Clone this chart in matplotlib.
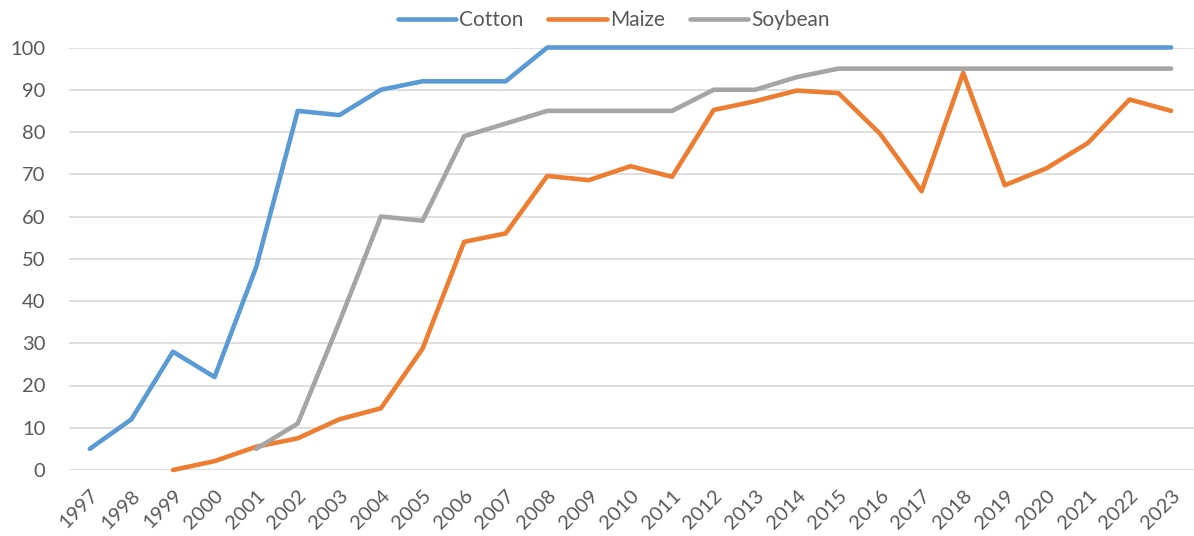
import matplotlib
matplotlib.use("Agg")
import matplotlib.pyplot as plt

years = list(range(1997, 2024))
cotton_years = list(range(1997, 2024))
cotton = [5, 12, 28, 22, 48, 85, 84, 90, 92, 92, 92, 100, 100, 100, 100, 100, 100,
          100, 100, 100, 100, 100, 100, 100, 100, 100, 100]
maize_years = list(range(1999, 2024))
maize = [0, 2.1, 5.5, 7.5, 12, 14.6, 28.7, 54, 56, 69.6, 68.6, 71.9, 69.4, 85.2,
         87.3, 89.8, 89.2, 79.6, 66, 94, 67.4, 71.4, 77.4, 87.7, 85]
soy_years = list(range(2001, 2024))
soybean = [5, 11, 35, 60, 59, 79, 82, 85, 85, 85, 85, 90, 90, 93, 95, 95, 95, 95,
           95, 95, 95, 95, 95]

plt.rcParams['font.family'] = ['Lato', 'DejaVu Sans']

fig = plt.figure(figsize=(11.94, 5.36), dpi=100)
ax = fig.add_axes([69 / 1194, 1 - 470 / 536, 1 - 69 / 1194, (470 - 47.5) / 536])

lw = 3.3
ax.plot(cotton_years, cotton, color='#5B9BD5', lw=lw, label='Cotton',
        solid_capstyle='round', solid_joinstyle='round', clip_on=False, zorder=3)
ax.plot(maize_years, maize, color='#ED7D31', lw=lw, label='Maize',
        solid_capstyle='round', solid_joinstyle='round', clip_on=False, zorder=3)
ax.plot(soy_years, soybean, color='#A5A5A5', lw=lw, label='Soybean',
        solid_capstyle='round', solid_joinstyle='round', clip_on=False, zorder=3)

ax.set_xlim(1996.5, 2023.55)
ax.set_ylim(0, 100)
ax.set_yticks(range(0, 101, 10))
ax.set_xticks(years)
ax.set_xticklabels([str(y) for y in years], rotation=45, ha='right',
                   rotation_mode='anchor')
ax.grid(axis='y', color='#D9D9D9', lw=1.2, zorder=0)
ax.set_axisbelow(True)
for s in ax.spines.values():
    s.set_visible(False)
ax.tick_params(axis='both', length=0, colors='#595959', labelsize=14.5)
ax.tick_params(axis='y', pad=17)
ax.tick_params(axis='x', pad=12)

leg = fig.legend(loc='center', bbox_to_anchor=(0.514, 1 - 20 / 536), ncol=3,
                 frameon=False, fontsize=15, handlelength=2.8, columnspacing=1.2,
                 handletextpad=0.15)
for t in leg.get_texts():
    t.set_color('#595959')

fig.savefig('out.png', dpi=100)
